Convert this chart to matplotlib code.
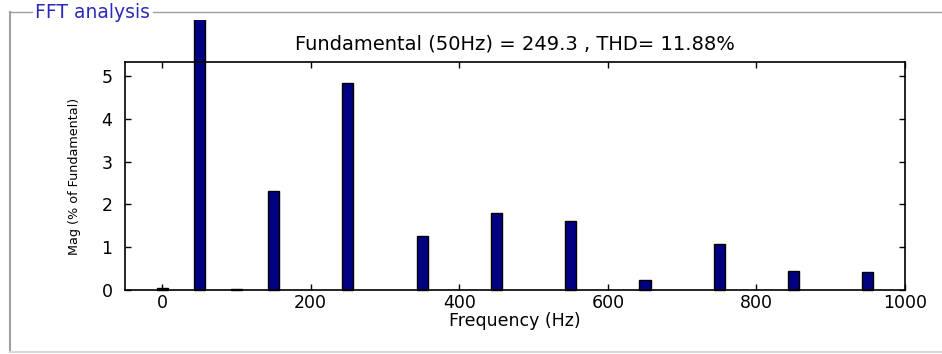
import matplotlib
matplotlib.use('Agg')
from matplotlib import pyplot as plt
from matplotlib.patches import Rectangle
from matplotlib.lines import Line2D

plt.rcParams['font.family'] = ['DejaVu Sans']

# harmonic spectrum, % of fundamental
freqs = [0, 50, 100, 150, 250, 350, 450, 550, 650, 750, 850, 950]
mags = [0.05, 100.0, 0.03, 2.32, 4.84, 1.26, 1.81, 1.62, 0.23, 1.08, 0.44, 0.41]
xticks = [0, 200, 400, 600, 800, 1000]
yticks = [0, 1, 2, 3, 4, 5]
title = 'Fundamental (50Hz) = 249.3 , THD= 11.88%'
panel_title = 'FFT analysis'

W, H = 942, 354
fig = plt.figure(figsize=(W / 100, H / 100), dpi=100)
ax = fig.add_axes([125 / W, 1 - 290 / H, 780 / W, 228 / H])

bars = ax.bar(freqs, mags, width=15, color='#000080', edgecolor='black',
              linewidth=1.0)
# the fundamental bar runs past the axes up to the panel edge
clip = Rectangle((0, 0), 1, 1 - 20 / H, transform=fig.transFigure)
for b in bars:
    b.set_clip_on(True)
    b.set_clip_path(clip)

ax.set_xlim(-50, 1000)
ax.set_ylim(0, 5.33)
ax.set_xticks(xticks)
ax.set_yticks(yticks)
ax.tick_params(direction='in', top=True, right=True, length=4, width=1,
               labelsize=12.5)
ax.tick_params(axis='y', pad=9)
ax.tick_params(axis='x', pad=3)
for s in ax.spines.values():
    s.set_linewidth(1.2)
ax.set_xlabel('Frequency (Hz)', fontsize=12.5, labelpad=0)
ax.set_ylabel('Mag (% of Fundamental)', fontsize=9.2, labelpad=15)
ax.set_title(title, fontsize=14, pad=9)

# panel frame
gray = '#a0a0a0'
ptxt = fig.text(35 / W, 1 - 12 / H, panel_title, color='#2a2ab8', fontsize=13.5,
                va='center', ha='left')
fig.canvas.draw()
x_end = ptxt.get_window_extent().x1 / W + 3 / W
fig.add_artist(Line2D([10 / W, 32 / W], [1 - 12 / H] * 2, color=gray, lw=1,
                      transform=fig.transFigure))
fig.add_artist(Line2D([x_end, 1.0], [1 - 12 / H] * 2, color=gray, lw=1,
                      transform=fig.transFigure))
fig.add_artist(Line2D([10 / W] * 2, [1 - 12 / H, 1 - 352 / H], color=gray, lw=1.5,
                      transform=fig.transFigure))
fig.add_artist(Line2D([10 / W, 1.0], [1 - 352 / H] * 2, color='#d8d8d8', lw=1.5,
                      transform=fig.transFigure))

fig.savefig('out.png', dpi=100)
